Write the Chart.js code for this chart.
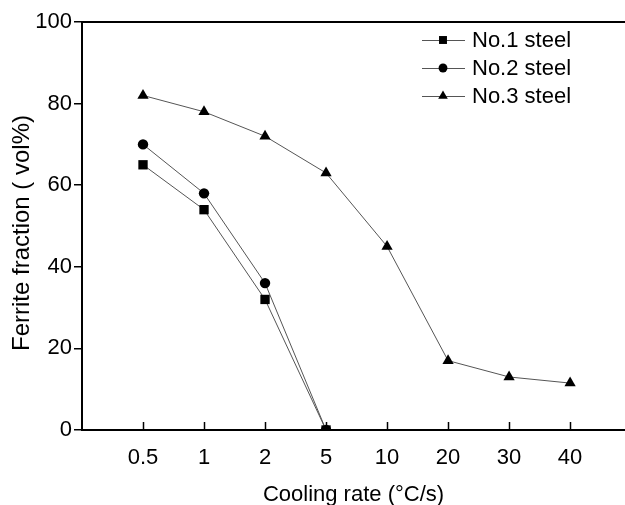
<!DOCTYPE html>
<html>
<head>
<meta charset="utf-8">
<script src="https://cdn.jsdelivr.net/npm/chart.js@4/dist/chart.umd.min.js"></script>
<style>
html, body { margin: 0; padding: 0; background: #fff; }
</style>
</head>
<body>
<canvas id="chart" width="625" height="505"></canvas>
<script>
// cooling rates (°C/s), drawn evenly spaced like the original figure
const rates = ['0.5', '1', '2', '5', '10', '20', '30', '40']
const steel1 = [65, 54, 32, 0]
const steel2 = [70, 58, 36, 0]
const steel3 = [82, 78, 72, 63, 45, 17, 13, 11.5]
const seriesNames = ['No.1 steel', 'No.2 steel', 'No.3 steel']
const yTitle = 'Ferrite fraction ( vol%)'

const font = "'Liberation Sans', Arial, sans-serif"
const lineColor = '#555'

const toPoints = (arr) => arr.map((v, i) => ({ x: i, y: v }))

const mkSet = (label, data, style, radius) => ({
    label: label,
    data: toPoints(data),
    borderColor: lineColor,
    borderWidth: 1,
    pointStyle: style,
    pointRadius: radius,
    pointBackgroundColor: '#000',
    pointBorderColor: '#000',
    pointBorderWidth: 0,
    tension: 0,
    clip: 0
})

// top frame line, inward x ticks, y title and the in-plot legend
const extras = {
    id: 'extras',
    afterDraw(chart) {
        const ctx = chart.ctx
        const area = chart.chartArea
        const x = chart.scales.x
        ctx.save()
        ctx.strokeStyle = '#000'
        ctx.lineWidth = 2
        ctx.beginPath()
        ctx.moveTo(area.left, area.top)
        ctx.lineTo(area.right, area.top)
        ctx.stroke()

        ctx.lineWidth = 1.5
        rates.forEach((r, i) => {
            const px = Math.round(x.getPixelForValue(i)) + 0.5
            ctx.beginPath()
            ctx.moveTo(px, area.bottom)
            ctx.lineTo(px, area.bottom - 8)
            ctx.stroke()
        })

        // y title, sits a little below the axis middle in the original
        ctx.save()
        ctx.translate(22, (area.top + area.bottom) / 2 + 7)
        ctx.rotate(-Math.PI / 2)
        ctx.fillStyle = '#000'
        ctx.font = '24px ' + font
        ctx.textAlign = 'center'
        ctx.textBaseline = 'middle'
        ctx.fillText(yTitle, 0, 0)
        ctx.restore()

        chart.data.datasets.forEach((ds, i) => {
            const y = 40 + i * 28
            ctx.strokeStyle = lineColor
            ctx.lineWidth = 1
            ctx.beginPath()
            ctx.moveTo(422, y + 0.5)
            ctx.lineTo(465, y + 0.5)
            ctx.stroke()
            ctx.fillStyle = '#000'
            ctx.strokeStyle = '#000'
            Chart.helpers.drawPoint(ctx, {
                pointStyle: ds.pointStyle,
                radius: ds.pointRadius * 0.85,
                rotation: 0,
                borderWidth: 0
            }, 443, y)
            ctx.fillStyle = '#000'
            ctx.font = '22px ' + font
            ctx.textBaseline = 'middle'
            ctx.textAlign = 'left'
            ctx.fillText(ds.label, 472, y + 1)
        })
        ctx.restore()
    }
}

new Chart(document.getElementById('chart'), {
    type: 'line',
    data: {
        datasets: [
            mkSet(seriesNames[0], steel1, 'rect', 6.6),
            mkSet(seriesNames[1], steel2, 'circle', 5.2),
            mkSet(seriesNames[2], steel3, 'triangle', 6.5)
        ]
    },
    options: {
        responsive: false,
        animation: false,
        layout: { autoPadding: false, padding: { top: 22, right: 0, left: 0, bottom: 0 } },
        plugins: {
            legend: { display: false },
            tooltip: { enabled: false }
        },
        scales: {
            x: {
                type: 'linear',
                min: -1,
                max: 7.9,
                afterBuildTicks: (scale) => {
                    scale.ticks = rates.map((r, i) => ({ value: i }))
                },
                afterFit: (scale) => {
                    scale.height = 75
                    scale.paddingLeft = 0
                    scale.paddingRight = 0
                },
                ticks: {
                    color: '#000',
                    font: { family: font, size: 22 },
                    padding: 15,
                    maxRotation: 0,
                    autoSkip: false,
                    callback: (v) => rates[v]
                },
                grid: { display: true, drawOnChartArea: false, drawTicks: false },
                border: { display: true, color: '#000', width: 2 },
                title: {
                    display: true,
                    text: 'Cooling rate (°C/s)',
                    color: '#000',
                    font: { family: font, size: 22 },
                    padding: { top: 0, bottom: -3 }
                }
            },
            y: {
                min: 0,
                max: 100,
                afterFit: (scale) => { scale.width = 82 },
                ticks: {
                    stepSize: 20,
                    color: '#000',
                    font: { family: font, size: 22 },
                    padding: 2
                },
                grid: {
                    display: true,
                    drawOnChartArea: false,
                    drawTicks: true,
                    tickLength: 8,
                    color: '#000',
                    lineWidth: 1.5
                },
                border: { display: true, color: '#000', width: 2 }
            }
        }
    },
    plugins: [extras]
})
</script>
</body>
</html>
